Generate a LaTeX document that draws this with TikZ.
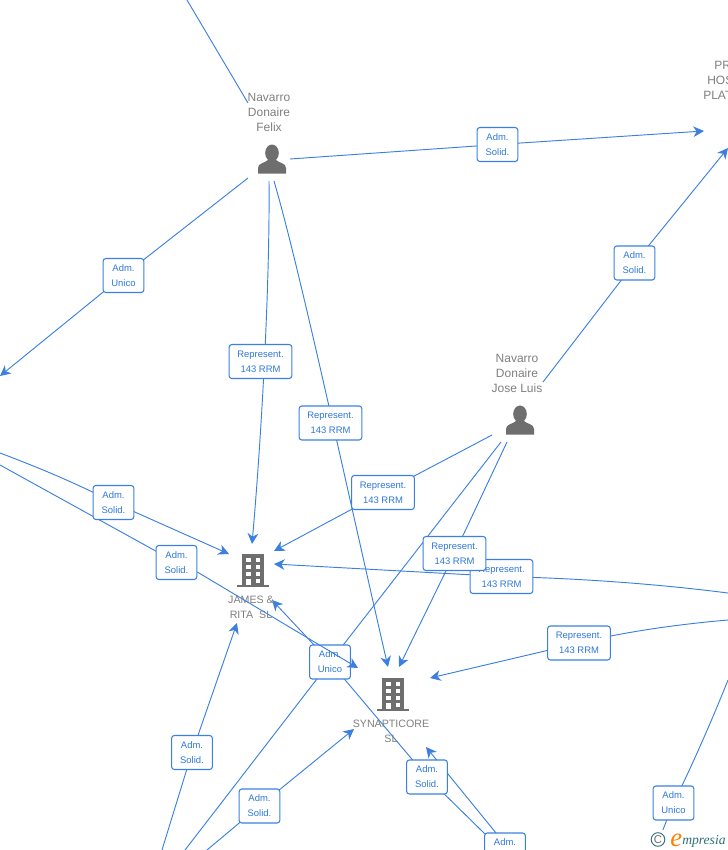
\documentclass[tikz,border=0pt]{standalone}
\usepackage{fontspec}
\setmainfont{Liberation Sans}
\newfontfamily\logofont{Liberation Serif}
\usetikzlibrary{arrows.meta,backgrounds}
\definecolor{edgeblue}{HTML}{3B80E0}
\definecolor{labelblue}{HTML}{2F78DC}
\definecolor{namegray}{HTML}{7F7F7F}
\definecolor{icongray}{HTML}{6E6E6E}
\definecolor{logoteal}{HTML}{2F6F78}
\tikzset{
  edgeline/.style={draw=edgeblue,line width=0.7pt},
  arrowline/.style={edgeline,-{Stealth[length=8pt,width=8pt,inset=2.5pt]}},
  tag/.style={draw=edgeblue,line width=0.8pt,fill=white,rounded corners=2pt,inner sep=0pt,
    text=labelblue,font=\fontsize{7.1pt}{11.25pt}\selectfont,align=center,minimum height=25.5pt},
  admtag/.style={tag,minimum width=30.5pt},
  reptag/.style={tag,minimum width=47pt},
  personname/.style={text=namegray,font=\fontsize{9pt}{11.25pt}\selectfont,align=center,inner sep=0pt},
  firmname/.style={text=namegray,font=\fontsize{8pt}{11.25pt}\selectfont,align=center,inner sep=0pt},
  icon/.style={fill=icongray,draw=none}
}
\newcommand{\personicon}[2]{%
  \fill[icongray] (#1,#2-7) ellipse (6.8 and 8.5);
  \fill[icongray] (#1-14,#2+13.5) -- (#1-14,#2+8) .. controls (#1-14,#2+3) and (#1-7,#2+3) .. (#1-4,#2) -- (#1+4,#2) .. controls (#1+7,#2+3) and (#1+14,#2+3) .. (#1+14,#2+8) -- (#1+14,#2+13.5) -- cycle;
}
\newcommand{\firmicon}[2]{%
  \fill[icongray] (#1-11,#2-16) rectangle (#1+11,#2+16);
  \fill[icongray] (#1-16,#2+15) rectangle (#1+16,#2+17);
  \foreach \yy in {-12,-5,2}{
    \fill[white] (#1-7,#2+\yy) rectangle (#1-2.5,#2+\yy+4);
    \fill[white] (#1+2.5,#2+\yy) rectangle (#1+7,#2+\yy+4);
  }
  \fill[white] (#1-7,#2+9) rectangle (#1-2.5,#2+15);
  \fill[white] (#1+2.5,#2+9) rectangle (#1+7,#2+13);
}
\begin{document}
\begin{tikzpicture}[x=0.75pt,y=-0.75pt]
\useasboundingbox (0,0) rectangle (728,850);
% text and icons
\node[personname] (felix) at (269,112) {Navarro\\Donaire\\Felix};
\node[personname] (jose) at (517,373) {Navarro\\Donaire\\Jose Luis};
\personicon{272}{160}
\personicon{520}{421}
\firmicon{253}{570}
\firmicon{393}{694}
\node[firmname] (james) at (251,607) {JAMES \&\\RITA\ \ SL};
\node[firmname] (synap) at (391,731) {SYNAPTICORE\\SL};
\node[personname,anchor=west] (prA) at (714,65) {PR};
\node[personname,anchor=west] (prB) at (707,80) {HOS};
\node[personname,anchor=west] (prC) at (703,95) {PLAT};
% free ends
\coordinate (a0) at (187,0);  \coordinate (a1) at (248,103);
\coordinate (b0) at (290,159); \coordinate (b1) at (704,131);
\coordinate (c0) at (248,178); \coordinate (c1) at (0,376);
\coordinate (d0) at (269,181); \coordinate (d1) at (252,544);
\coordinate (e0) at (274,181); \coordinate (e1) at (388,667);
\coordinate (f0) at (543,382); \coordinate (f1) at (728,148);
\coordinate (g0) at (492,435); \coordinate (g1) at (274,551);
\coordinate (h0) at (501,442); \coordinate (h1) at (185,850);
\coordinate (i0) at (507,442); \coordinate (i1) at (399,667);
\coordinate (j0) at (0,453);   \coordinate (j1) at (229,554);
\coordinate (k0) at (0,465);   \coordinate (k1) at (358,668);
\coordinate (l0) at (162,850); \coordinate (l1) at (237,623);
\coordinate (m0) at (207,850); \coordinate (m1) at (354,729);
\coordinate (n0) at (728,593); \coordinate (n1) at (274,564);
\coordinate (o0) at (728,620); \coordinate (o1) at (430,678);
\coordinate (p1) at (272,600);
\coordinate (q0) at (496,833); \coordinate (q1) at (426,747);
\coordinate (r0) at (728,680); \coordinate (r1) at (655,850);
\coordinate (s0) at (486,835);
% tags
\node[admtag] (t1) at (497.5,144.5) {Adm.\\Solid.};
\node[admtag] (t2) at (123.5,275.5) {Adm.\\Unico};
\node[admtag] (t3) at (634.5,263) {Adm.\\Solid.};
\node[reptag] (t4) at (260.5,361.5) {Represent.\\143 RRM};
\node[reptag] (t5) at (330.5,423) {Represent.\\143 RRM};
\node[reptag] (t6) at (383,492.5) {Represent.\\143 RRM};
\node[reptag] (t7) at (501.5,576.5) {Represent.\\143 RRM};
\node[reptag] (t8) at (454.5,553.5) {Represent.\\143 RRM};
\node[reptag] (t9) at (579,643) {Represent.\\143 RRM};
\node[admtag] (t10) at (113.5,502.5) {Adm.\\Solid.};
\node[admtag] (t11) at (176.5,562.5) {Adm.\\Solid.};
\node[admtag] (t12) at (330,662) {Adm.\\Unico};
\node[admtag] (t13) at (192,752.5) {Adm.\\Solid.};
\node[admtag] (t14) at (259.5,806) {Adm.\\Solid.};
\node[admtag] (t15) at (427,777) {Adm.\\Solid.};
\node[admtag] (t16) at (505,850) {Adm.\\Unico};
\node[admtag] (t17) at (673.5,803) {Adm.\\Unico};
% connectors behind tags
\begin{scope}[on background layer]
\draw[edgeline] (a0) -- (a1);
\draw[arrowline] (b0) -- (t1.center) -- (b1);
\draw[arrowline] (c0) -- (t2.center) -- (c1);
\draw[arrowline] (d0) .. controls (270,280) and (262,430) .. (d1);
\draw[arrowline] (e0) .. controls (300,270) and (345,480) .. (e1);
\draw[arrowline] (f0) -- (t3.center) -- (f1);
\draw[arrowline] (g0) -- (t6.center) -- (g1);
\draw[edgeline] (h0) -- (t12.center) -- (h1);
\draw[arrowline] (i0) -- (t8.center) -- (i1);
\draw[arrowline] (j0) .. controls (40,468) and (80,485) .. (t10.center) -- (j1);
\draw[edgeline] (k0) -- (t11.center);
\draw[arrowline] (l0) -- (t13.center) -- (l1);
\draw[arrowline] (m0) -- (t14.center) -- (m1);
\draw[arrowline] (n0) .. controls (650,583) and (570,578) .. (t7.center) -- (n1);
\draw[arrowline] (o0) .. controls (670,625) and (620,633) .. (t9.center) -- (o1);
\draw[arrowline] (t12.center) -- (p1);
\draw[edgeline] (t12.center) -- (t15.center) -- (s0);
\draw[arrowline] (t16.center) -- (q0) -- (q1);
\draw[edgeline] (r0) .. controls (710,725) and (690,770) .. (t17.center) -- (r1);
\end{scope}
% the one connector that runs over a tag
\draw[arrowline] (t11.south east) ++(0,-8) coordinate (k2) (k2) -- (k1);
% logo
\fill[white] (648,830) rectangle (728,850);
\node[inner sep=0pt,text=icongray] (logoc) at (658,839.5) {\fontsize{8.5pt}{9pt}\selectfont C};
\draw[logoteal,line width=0.7pt] (logoc) circle (6.8);
\node[inner sep=0pt,anchor=base west,text=orange] (logoe) at (670,846) {\logofont\itshape\fontsize{20pt}{20pt}\selectfont e};
\node[inner sep=0pt,anchor=base west,text=logoteal] (logot) at (682,844) {\logofont\itshape\fontsize{10.2pt}{10pt}\selectfont mpresia};
\end{tikzpicture}
\end{document}
